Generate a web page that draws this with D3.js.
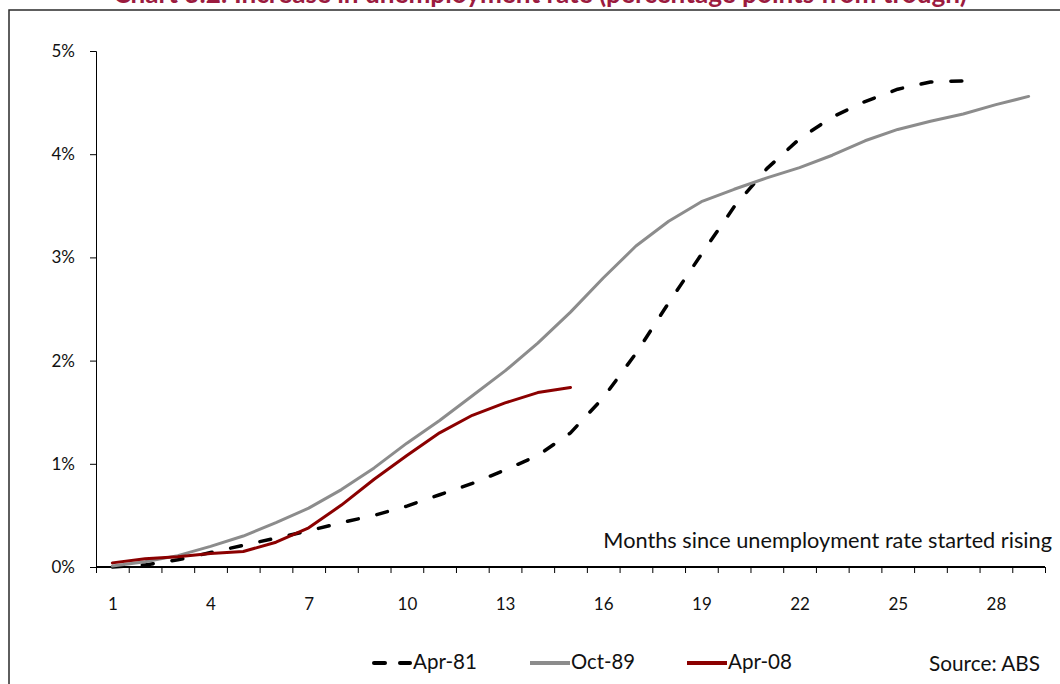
<!DOCTYPE html>
<html>
<head>
<meta charset="utf-8">
<script src="https://cdn.jsdelivr.net/npm/d3@7"></script>
<style>
  html, body { margin: 0; padding: 0; background: #fff; }
  svg { display: block; font-family: Lato, "Open Sans", "DejaVu Sans", sans-serif; }
</style>
</head>
<body>
<svg id="chart" width="1060" height="684"></svg>
<script>
// ---- data ----
const months = d3.range(1, 30);
const xTickLabels = [1, 4, 7, 10, 13, 16, 19, 22, 25, 28];
const yTickValues = [0, 1, 2, 3, 4, 5];
const apr81 = [0.00, 0.02, 0.07, 0.14, 0.21, 0.28, 0.35, 0.43, 0.50, 0.59, 0.70, 0.81, 0.94, 1.08, 1.30, 1.64, 2.07, 2.56, 3.03, 3.49, 3.86, 4.15, 4.36, 4.51, 4.63, 4.70, 4.71];
const oct89 = [0.01, 0.05, 0.11, 0.20, 0.30, 0.43, 0.57, 0.75, 0.96, 1.20, 1.42, 1.66, 1.90, 2.17, 2.47, 2.80, 3.11, 3.35, 3.54, 3.66, 3.77, 3.87, 3.99, 4.13, 4.24, 4.32, 4.39, 4.48, 4.56];
const apr08 = [0.04, 0.08, 0.10, 0.13, 0.15, 0.24, 0.38, 0.60, 0.85, 1.08, 1.30, 1.47, 1.59, 1.69, 1.74];
const seriesNames = ["Apr-81", "Oct-89", "Apr-08"];
const titleText = "Chart 3.2: Increase in unemployment rate (percentage points from trough)";
const axisTitle = "Months since unemployment rate started rising";
const sourceText = "Source: ABS";

// ---- layout ----
const svg = d3.select("#chart");
const plot = { left: 96, right: 1045, top: 51, bottom: 567 };

const x = d3.scaleLinear().domain([0.5, 29.5]).range([plot.left, plot.right]);
const y = d3.scaleLinear().domain([0, 5]).range([plot.bottom, plot.top]);

function fitText(sel, target) {
  const node = sel.node();
  const fs = parseFloat(sel.style("font-size"));
  const w = node.getComputedTextLength();
  if (w > 0) sel.style("font-size", (fs * target / w).toFixed(2) + "px");
}

// frame
svg.append("rect")
  .attr("x", 9).attr("y", 10).attr("width", 1080).attr("height", 700)
  .attr("fill", "none").attr("stroke", "#2a2a2a").attr("stroke-width", 1.5);

// title (partially clipped at top, as in the source image)
const t = svg.append("text")
  .attr("x", 540).attr("y", 3).attr("text-anchor", "middle")
  .style("font-size", "18px").attr("font-weight", "bold").attr("fill", "#9b1b3f")
  .text(titleText);
fitText(t, 854);

// y axis
const yAxis = svg.append("g")
  .attr("transform", `translate(${plot.left},0)`)
  .call(d3.axisLeft(y).tickValues(yTickValues).tickSize(6).tickPadding(15).tickFormat(d => d + "%"));
yAxis.attr("font-size", null).attr("font-family", null);
yAxis.select(".domain").attr("stroke", "#000").attr("stroke-width", 1);
yAxis.selectAll(".tick line").attr("stroke", "#000");
yAxis.selectAll(".tick text").style("font-size", "17px").attr("fill", "#111");

// x axis tick marks (between categories)
const xMarks = svg.append("g")
  .attr("transform", `translate(0,${plot.bottom})`)
  .call(d3.axisBottom(x).tickValues(d3.range(0.5, 30, 1)).tickSize(6).tickFormat(""));
xMarks.select(".domain").attr("stroke", "#000").attr("stroke-width", 2).attr("d", `M${plot.left},0H${plot.right}`);
xMarks.selectAll(".tick line").attr("stroke", "#000");

// x axis labels
const xLabels = svg.append("g")
  .attr("transform", `translate(0,${plot.bottom})`)
  .call(d3.axisBottom(x).tickValues(xTickLabels).tickSize(0).tickPadding(31));
xLabels.attr("font-size", null).attr("font-family", null);
xLabels.select(".domain").remove();
xLabels.selectAll(".tick text").style("font-size", "17px").attr("fill", "#111");

// axis title
const at = svg.append("text")
  .attr("x", 1052).attr("y", 548).attr("text-anchor", "end")
  .style("font-size", "17px").attr("fill", "#111")
  .text(axisTitle);
fitText(at, 449);

// lines
const line = d3.line().x((d, i) => x(months[i])).y(d => y(d));
const styles = [
  { data: apr81, color: "#000000", width: 3.5, dash: "11,19", cap: "round" },
  { data: oct89, color: "#8c8c8c", width: 3, dash: null, cap: "round" },
  { data: apr08, color: "#8b0000", width: 3, dash: null, cap: "round" }
];
styles.forEach(s => {
  svg.append("path")
    .datum(s.data)
    .attr("d", line)
    .attr("fill", "none")
    .attr("stroke", s.color)
    .attr("stroke-width", s.width)
    .attr("stroke-linejoin", "round")
    .attr("stroke-linecap", s.cap)
    .attr("stroke-dasharray", s.dash);
});

// legend
const legendX = [372, 530, 687];
const legendY = 663;
seriesNames.forEach((name, i) => {
  const s = styles[i];
  const g = svg.append("g").attr("transform", `translate(${legendX[i]},${legendY})`);
  if (i === 0) {
    g.append("line").attr("x1", 2).attr("x2", 13).attr("y1", 0).attr("y2", 0)
      .attr("stroke", s.color).attr("stroke-width", 4).attr("stroke-linecap", "round");
    g.append("line").attr("x1", 28).attr("x2", 38).attr("y1", 0).attr("y2", 0)
      .attr("stroke", s.color).attr("stroke-width", 4).attr("stroke-linecap", "round");
  } else {
    g.append("line").attr("x1", 0).attr("x2", 40).attr("y1", 0).attr("y2", 0)
      .attr("stroke", s.color).attr("stroke-width", 4);
  }
  const lt = g.append("text").attr("x", 41).attr("y", 6).style("font-size", "17px").attr("fill", "#111").text(name);
  fitText(lt, 64);
});

// source
const src = svg.append("text")
  .attr("x", 929).attr("y", 671)
  .style("font-size", "17px").attr("fill", "#111")
  .text(sourceText);
fitText(src, 111);
</script>
</body>
</html>
